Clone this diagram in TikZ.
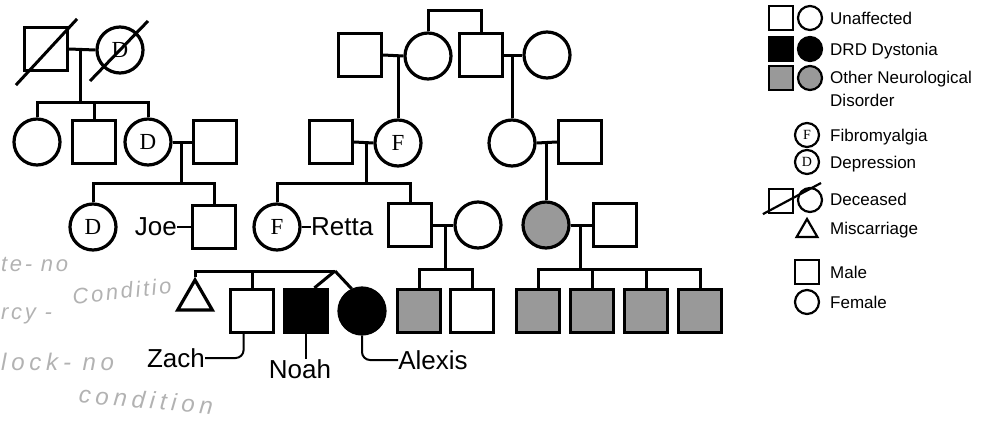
\documentclass[tikz,border=0pt]{standalone}
\usepackage{fontspec}
\setmainfont{Liberation Sans}
\newfontfamily\lettera{Liberation Serif}
\usetikzlibrary{shapes.geometric}

\tikzset{
  maschio/.style={draw, line width=3.2pt, rectangle, minimum size=43pt, inner sep=0pt},
  femmina/.style={draw, line width=3.2pt, circle, minimum size=46pt, inner sep=0pt,
    font=\lettera\fontsize{23}{23}\selectfont},
  aborto/.style={draw, line width=3.2pt, regular polygon, regular polygon sides=3,
    minimum size=40pt, inner sep=0pt},
  dystonia/.style={fill=black},
  altro/.style={fill=black!40},
  legame/.style={line width=3pt},
  nome/.style={font=\fontsize{26}{26}\selectfont, inner sep=0pt},
  lmaschio/.style={draw, line width=2.2pt, rectangle, minimum size=24pt, inner sep=0pt},
  lfemmina/.style={draw, line width=2.2pt, circle, minimum size=24pt, inner sep=0pt,
    font=\lettera\fontsize{14}{14}\selectfont},
  voce/.style={anchor=base west, inner sep=0pt, align=left,
    font=\fontsize{17}{23}\selectfont},
  appunto/.style={black!30, inner sep=0pt,
    font=\itshape\fontsize{22}{22}\selectfont\addfontfeature{LetterSpace=12}},
  grande/.style={font=\itshape\fontsize{24}{24}\selectfont\addfontfeature{LetterSpace=20}}
}

\begin{document}
\begin{tikzpicture}[x=1pt, y=-1pt]
\useasboundingbox (0,0) rectangle (992,423);

% Prima generazione (sinistra)
\node[maschio] (bis1) at (46,49) {};
\node[femmina] (bis2) at (120,50) {D};
\draw[legame] (bis1.east) -- (bis2.west);
\draw[legame] ([shift={(-7,13)}]bis1.south west) -- ([shift={(8,-7)}]bis1.north east);
\draw[legame] ([shift={(-30,31)}]bis2.center) -- ([shift={(28,-29)}]bis2.center);
\coordinate (j1) at (80,49);
\coordinate (k1) at (80,102);

% Seconda generazione (sinistra)
\node[femmina] (zia1) at (37,142) {};
\node[maschio] (zio1) at (94,142) {};
\node[femmina] (nonnaD) at (148,142) {D};
\node[maschio] (nonnoD) at (215,142) {};
\draw[legame] (j1) -- (k1);
\draw[legame] (zia1.north) |- (k1) -| (nonnaD.north);
\draw[legame] (zio1.north) -- (zio1.north |- k1);
\draw[legame] (nonnaD.east) -- (nonnoD.west);
\coordinate (j2) at (181,142);
\coordinate (k2) at (181,183);

% Terza generazione (sinistra)
\node[femmina] (figliaD) at (93,227) {D};
\node[maschio] (joe) at (214,227) {};
\draw[legame] (j2) -- (k2);
\draw[legame] (figliaD.north) |- (k2) -| (joe.north);
\node[nome, anchor=east] (joeT) at (177,227) {Joe};
\draw[line width=2pt] (joeT.east) -- (joe.west);

% Prima generazione (centro)
\node[maschio] (bisM) at (360,55) {};
\node[femmina] (bisF) at (428,56) {};
\node[maschio] (bisM2) at (481,55) {};
\node[femmina] (bisF2) at (547,55) {};
\coordinate (t1) at (456,10);
\draw[legame] (bisF.north) |- (t1) -| (bisM2.north);
\draw[legame] (bisM.east) -- (bisF.west);
\draw[legame] (bisM2.east) -- (bisF2.west);
\coordinate (j3) at (398,55);
\coordinate (j4) at (512,55);

% Seconda generazione (centro)
\node[maschio] (nonnoR) at (331,142) {};
\node[femmina] (nonnaF) at (398,143) {F};
\node[femmina] (nonnaR) at (512,143) {};
\node[maschio] (nonnoR2) at (580,142) {};
\draw[legame] (j3) -- (nonnaF.north);
\draw[legame] (j4) -- (nonnaR.north);
\draw[legame] (nonnoR.east) -- (nonnaF.west);
\draw[legame] (nonnaR.east) -- (nonnoR2.west);
\coordinate (j5) at (366,143);
\coordinate (k5) at (366,183);
\coordinate (j6) at (546,143);

% Terza generazione (centro)
\node[femmina] (retta) at (277,227) {F};
\node[maschio] (fratello) at (410,225) {};
\node[femmina] (cognata) at (478,225) {};
\node[femmina, altro] (sorella) at (546,225) {};
\node[maschio] (marito) at (615,225) {};
\draw[legame] (j5) -- (k5);
\draw[legame] (retta.north) |- (k5) -| (fratello.north);
\draw[legame] (j6) -- (sorella.north);
\draw[legame] (fratello.east) -- (cognata.west);
\draw[legame] (sorella.east) -- (marito.west);
\node[nome, anchor=west] (rettaT) at (311,227) {Retta};
\draw[line width=2pt] (retta.east) -- (rettaT.west);
\coordinate (j7) at (445,225);
\coordinate (k7) at (445,269);
\coordinate (j8) at (580,225);
\coordinate (k8) at (580,269);

% Quarta generazione
\node[aborto] (abort) at (195,300) {};
\node[maschio] (zach) at (252,311) {};
\node[maschio, dystonia] (noah) at (306,311) {};
\node[femmina, dystonia] (alexis) at (362,311) {};
\coordinate (k9) at (335,271);
\draw[legame] (abort.north) |- (k9);
\draw[legame] (zach.north) -- (zach.north |- k9);
\draw[legame] (k9) -- (noah.70);
\draw[legame] (k9) -- (alexis.115);
\node[maschio, altro] (cug1) at (419,311) {};
\node[maschio] (cug2) at (472,311) {};
\draw[legame] (j7) -- (k7);
\draw[legame] (cug1.north) |- (k7) -| (cug2.north);
\node[maschio, altro] (nip1) at (538,311) {};
\node[maschio, altro] (nip2) at (592,311) {};
\node[maschio, altro] (nip3) at (646,311) {};
\node[maschio, altro] (nip4) at (700,311) {};
\draw[legame] (j8) -- (k8);
\draw[legame] (nip1.north) |- (k8) -| (nip4.north);
\draw[legame] (nip2.north) -- (nip2.north |- k8);
\draw[legame] (nip3.north) -- (nip3.north |- k8);

% Nomi
\node[nome] (zachT) at (176,358) {Zach};
\node[nome] (noahT) at (300,369) {Noah};
\node[nome] (alexisT) at (433,360) {Alexis};
\draw[line width=2pt, rounded corners=8pt] (zach.-110) |- (zachT.east);
\draw[line width=2pt] (noah.south) -- (noahT.north -| noah.south);
\draw[line width=2pt, rounded corners=8pt] (alexis.south) |- (alexisT.west);

% Appunti a mano
\node[appunto, anchor=west] (a1) at (1,264) {te- no};
\node[appunto, rotate=6] (a2) at (122,291) {Conditio};
\node[appunto, anchor=west] (a3) at (1,316) {rcy -};
\node[appunto, grande, anchor=west] (a4) at (1,362) {lock- no};
\node[appunto, grande, rotate=-5] (a5) at (146,400) {condition};

% Legenda
\node[lmaschio] (lu1) at (781,18) {};
\node[lfemmina] (lu2) at (810,18) {};
\node[voce] at (830,24) {Unaffected};
\node[lmaschio, dystonia] (ld1) at (781,49) {};
\node[lfemmina, dystonia] (ld2) at (810,49) {};
\node[voce] at (830,55) {DRD Dystonia};
\node[lmaschio, altro] (lo1) at (781,78) {};
\node[lfemmina, altro] (lo2) at (810,78) {};
\node[voce] at (830,106) {Other Neurological\\Disorder};
\node[lfemmina] (lf) at (807,135) {F};
\node[voce] at (830,141) {Fibromyalgia};
\node[lfemmina] (ldp) at (807,162) {D};
\node[voce] at (830,168) {Depression};
\node[lmaschio] (lx1) at (781,201) {};
\node[lfemmina] (lx2) at (810,200) {};
\draw[line width=2.2pt] ([shift={(-5,0)}]lx1.south west) -- ([shift={(11,-17)}]lx2.center);
\node[voce] at (830,205) {Deceased};
\node[lmaschio, regular polygon, regular polygon sides=3, minimum size=24pt] (lm) at (807,231) {};
\node[voce] at (830,234) {Miscarriage};
\node[lmaschio] (lma) at (807,272) {};
\node[voce] at (830,278) {Male};
\node[lfemmina] (lfe) at (807,302) {};
\node[voce] at (830,308) {Female};
\end{tikzpicture}
\end{document}
